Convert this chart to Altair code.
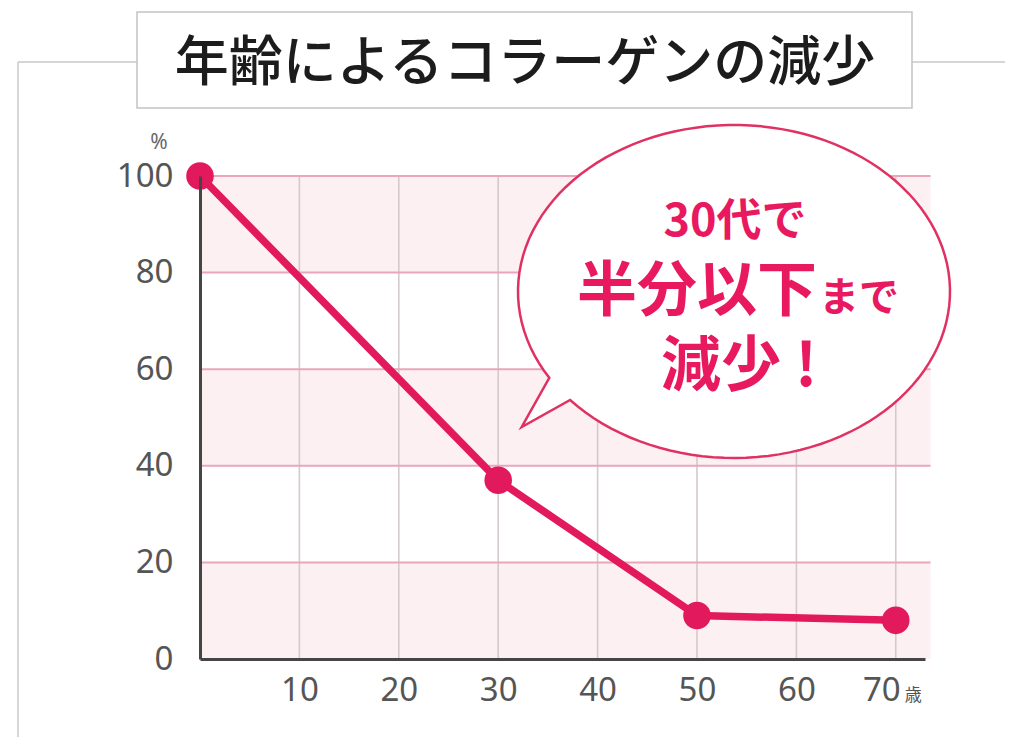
import math
import altair as alt
import pandas as pd

# ---- data ----
ages = [0, 30, 50, 70]
collagen = [100, 37, 9, 8]
x_ticks = [10, 20, 30, 40, 50, 60, 70]
y_ticks = [0, 20, 40, 60, 80, 100]
grid_y = [20, 40, 60, 80, 100]
band_lo = [0, 40, 80]
band_hi = [20, 60, 100]

title_text = "年齢によるコラーゲンの減少"
bubble_line1 = "30代で"
bubble_line2a = "半分以下"
bubble_line2b = "まで"
bubble_line3a = "減少"
bubble_line3b = "!"
y_unit = "%"
x_unit = "歳"

PINK = "#e2195c"
TEXT_PINK = "#e8195e"
LABEL = "#555555"
FONT = "Noto Sans CJK JP"

X_MAX = 72.94
xs = alt.Scale(domain=[0, X_MAX], nice=False, zero=False)
ys = alt.Scale(domain=[0, 100], nice=False)

X_AX = alt.Axis(values=x_ticks, title=None, grid=False, ticks=False, tickSize=0,
                domainColor="#454545", domainWidth=3, labelFont="Noto Sans",
                labelFontSize=33, labelColor=LABEL, labelPadding=15, zindex=1,
                labelFlush=False, labelExpr="datum.value == 70 ? '' : datum.label")
Y_AX = alt.Axis(values=y_ticks, title=None, grid=False, ticks=False, tickSize=0,
                domainColor="#454545", domainWidth=3, labelFont="Noto Sans",
                labelFontSize=33, labelColor=LABEL, labelPadding=27, zindex=1)

df = pd.DataFrame({"age": ages, "pct": collagen})
bands = pd.DataFrame({"lo": band_lo, "hi": band_hi, "x0": 0, "x1": 73.5})
hgrid = pd.DataFrame({"y": grid_y, "x0": 0, "x1": 73.5})
vgrid = pd.DataFrame({"x": x_ticks, "y0": 0, "y1": 100})
one = pd.DataFrame({"k": [0]})

band_layer = alt.Chart(bands).mark_rect(fill="#fdf0f3").encode(
    x=alt.X("x0:Q", scale=xs, axis=X_AX), x2="x1",
    y=alt.Y("lo:Q", scale=ys, axis=Y_AX), y2="hi")

vgrid_layer = alt.Chart(vgrid).mark_rule(color="#d3cacc", strokeWidth=1.6).encode(
    x=alt.X("x:Q", scale=xs, axis=X_AX),
    y=alt.Y("y0:Q", scale=ys, axis=Y_AX), y2="y1")

hgrid_layer = alt.Chart(hgrid).mark_rule(color="#eaa6ba", strokeWidth=2).encode(
    x=alt.X("x0:Q", scale=xs, axis=X_AX), x2="x1",
    y=alt.Y("y:Q", scale=ys, axis=Y_AX))

line_layer = alt.Chart(df).mark_line(color=PINK, strokeWidth=7.5).encode(
    x=alt.X("age:Q", scale=xs, axis=X_AX),
    y=alt.Y("pct:Q", scale=ys, axis=Y_AX))

point_layer = alt.Chart(df).mark_point(filled=True, color=PINK, size=760, opacity=1).encode(
    x=alt.X("age:Q", scale=xs, axis=X_AX),
    y=alt.Y("pct:Q", scale=ys, axis=Y_AX))

# x label 70 + unit (label block "70歳" is centred on the tick)
lab70 = pd.DataFrame({"x": [70], "t": ["70"]})
lab70_layer = alt.Chart(lab70).mark_text(font="Noto Sans", fontSize=33, color=LABEL,
                                         align="center", baseline="middle",
                                         dx=-14, dy=32).encode(
    x=alt.X("x:Q", scale=xs, axis=X_AX), y=alt.value(483), text="t:N")
unit_layer = alt.Chart(lab70).mark_text(font=FONT, fontSize=17, color=LABEL,
                                        align="left", baseline="alphabetic",
                                        dx=9, dy=42).encode(
    x=alt.X("x:Q", scale=xs, axis=X_AX), y=alt.value(483), text=alt.value(x_unit))
pct_layer = alt.Chart(one).mark_text(font="Noto Sans", fontSize=21, color="#666666",
                                     align="center", baseline="middle").encode(
    x=alt.value(-41), y=alt.value(-33), text=alt.value(y_unit))

# ---- speech bubble (normalised outline, scaled by symbol size) ----
RY = 0.7708
t1 = math.atan2(0.3944 / RY, -0.844)
t2 = math.atan2(0.5023 / RY, -0.759) + 2 * math.pi
n = 120
pts = []
for i in range(n + 1):
    t = t1 + (t2 - t1) * i / n
    pts.append((math.cos(t), RY * math.sin(t)))
path = "M " + " L ".join(f"{px:.4f} {py:.4f}" for px, py in pts) + " L -0.9829 0.6273 Z"

bubble_layer = alt.Chart(one).mark_point(shape=path, size=186624, filled=True,
                                         fill="white", stroke="#e03262",
                                         strokeWidth=2.5, opacity=1).encode(
    x=alt.value(534), y=alt.value(115.5))

b1 = alt.Chart(one).mark_text(font=FONT, fontSize=45, fontWeight="bold", color=TEXT_PINK,
                              align="center", baseline="alphabetic").encode(
    x=alt.value(535), y=alt.value(60), text=alt.value(bubble_line1))
b2a = alt.Chart(one).mark_text(font=FONT, fontSize=60, fontWeight="bold", color=TEXT_PINK,
                               align="right", baseline="alphabetic").encode(
    x=alt.value(617), y=alt.value(135), text=alt.value(bubble_line2a))
b2b = alt.Chart(one).mark_text(font=FONT, fontSize=40, fontWeight="bold", color=TEXT_PINK,
                               align="left", baseline="alphabetic").encode(
    x=alt.value(619), y=alt.value(135), text=alt.value(bubble_line2b))
b3a = alt.Chart(one).mark_text(font=FONT, fontSize=60, fontWeight="bold", color=TEXT_PINK,
                               align="left", baseline="alphabetic").encode(
    x=alt.value(461), y=alt.value(210), text=alt.value(bubble_line3a))
b3b = alt.Chart(one).mark_text(font=FONT, fontSize=60, fontWeight="bold", color=TEXT_PINK,
                               align="center", baseline="alphabetic").encode(
    x=alt.value(606), y=alt.value(210), text=alt.value(bubble_line3b))

# ---- frame and title box ----
frame_top1 = alt.Chart(one).mark_rule(color="#c9c9c9", strokeWidth=1.5).encode(
    x=alt.value(-182), x2=alt.value(-63), y=alt.value(-114))
frame_top2 = alt.Chart(one).mark_rule(color="#c9c9c9", strokeWidth=1.5).encode(
    x=alt.value(712), x2=alt.value(830), y=alt.value(-114))
frame_left = alt.Chart(one).mark_rule(color="#c9c9c9", strokeWidth=1.5).encode(
    x=alt.value(-182), y=alt.value(-114), y2=alt.value(580))
title_box = alt.Chart(one).mark_rect(fill="white", stroke="#c4c4c4", strokeWidth=1.5).encode(
    x=alt.value(-63), x2=alt.value(712), y=alt.value(-164), y2=alt.value(-68))
title_layer = alt.Chart(one).mark_text(font=FONT, fontSize=54, fontWeight=500, color="#1c1c1c",
                                       align="center", baseline="alphabetic").encode(
    x=alt.value(325), y=alt.value(-95), text=alt.value(title_text))

chart = alt.layer(
    band_layer, vgrid_layer, hgrid_layer, line_layer, point_layer,
    bubble_layer, b1, b2a, b2b, b3a, b3b,
    lab70_layer, unit_layer, pct_layer,
    frame_top1, frame_top2, frame_left, title_box, title_layer,
).properties(
    width=725, height=483,
    padding={"left": 192, "top": 168, "right": 80, "bottom": 78},
    autosize=alt.AutoSizeParams(type="none"),
    background="white",
).configure_view(stroke=None)

chart.save("out.html", embed_options={"renderer": "svg", "actions": False})
